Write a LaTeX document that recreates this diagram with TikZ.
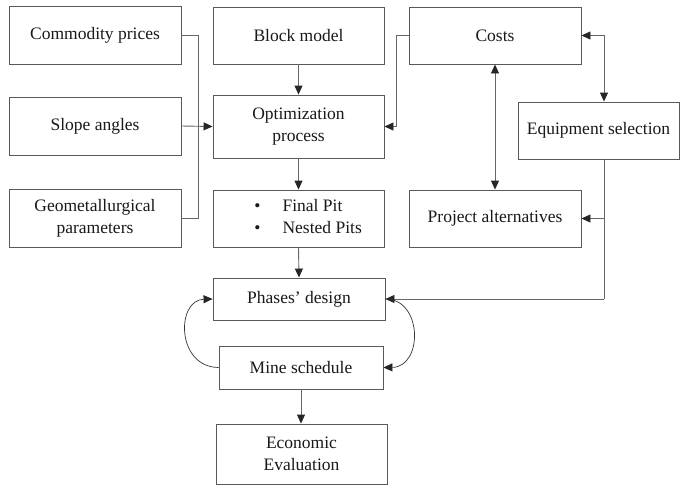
\documentclass[tikz,border=0pt]{standalone}
\usepackage{fontspec}
\setmainfont{Liberation Serif}
\usetikzlibrary{arrows.meta}
\begin{document}
\begin{tikzpicture}[x=1pt,y=-1pt,
  box/.style={draw=black!65, line width=0.9pt, fill=white, inner sep=0pt, align=center,
    font=\fontsize{17.5}{22}\selectfont, text=black!90},
  conn/.style={draw=black!60, line width=0.9pt, -{Triangle[length=9pt,width=8pt,black!85]}},
  dconn/.style={draw=black!60, line width=0.9pt, {Triangle[length=9pt,width=8pt,black!85]}-{Triangle[length=9pt,width=8pt,black!85]}},
  plain/.style={draw=black!60, line width=0.9pt}]
\useasboundingbox (0,0) rectangle (680,485);
% boxes
\node[box, minimum width=172pt, minimum height=58pt] (comm) at (95,35.5) {Commodity prices};
\node[box, minimum width=172pt, minimum height=58pt] (slope) at (95,126) {Slope angles};
\node[box, minimum width=172pt, minimum height=58pt] (geo) at (95,218) {Geometallurgical\\parameters};
\node[box, minimum width=171pt, minimum height=57pt] (block) at (298.5,35.5) {Block model};
\node[box, minimum width=171pt, minimum height=63pt] (opt) at (298.5,126.5) {Optimization\\process};
\node[box, minimum width=171pt, minimum height=57pt] (pit) at (298.5,218.5) {};
\node[box, draw=none, fill=none, anchor=west] (pittext) at (254,218.5)
  {\begin{tabular}{@{}l@{\hspace{22pt}}l@{}}\textbullet & Final Pit\\ \textbullet & Nested Pits\end{tabular}};
\node[box, minimum width=172pt, minimum height=57pt] (costs) at (495,35.5) {Costs};
\node[box, minimum width=161pt, minimum height=57pt] (equip) at (598.5,130.5) {Equipment selection};
\node[box, minimum width=172pt, minimum height=57pt] (proj) at (495,218.5) {Project alternatives};
\node[box, minimum width=172pt, minimum height=42pt] (phases) at (299,299) {Phases' design};
\node[box, minimum width=164pt, minimum height=43pt] (mine) at (301,367.5) {Mine schedule};
\node[box, minimum width=171pt, minimum height=60pt] (econ) at (301.5,454) {Economic\\Evaluation};
% left inputs bus
\coordinate (busT) at (198,35.5);
\coordinate (busB) at (198,218);
\draw[plain] (comm.east) -- (busT) -- (busB) -- (geo.east);
\draw[conn] (slope.east) -- (opt.west);
% vertical chain
\draw[conn] (block.south) -- (opt.north);
\draw[conn] (opt.south) -- (pit.north);
\draw[conn] (pit.south) -- (phases.north);
\draw[conn] (mine.south) -- (mine.south |- econ.north);
% costs to optimization
\coordinate (cA) at (396,35.5);
\coordinate (cB) at (396,126.5);
\draw[conn] (costs.west) -- (cA) -- (cB) -- (opt.east);
% costs <-> project alternatives
\draw[dconn] (costs.south) -- (proj.north);
% costs <-> equipment
\coordinate (eA) at (604,35.5);
\draw[dconn] (costs.east) -- (eA) -- (eA |- equip.north);
% equipment -> project alternatives and phases
\coordinate (eB) at (604,218.5);
\coordinate (eC) at (604,299);
\draw[plain] (604,159) -- (eC);
\draw[conn] (eB) -- (proj.east);
\draw[conn] (eC) -- (phases.east);
% loop curves
\draw[conn, draw=black!80, line width=0.7pt] (mine.west) .. controls (176,367) and (176,300) .. (phases.west);
\draw[conn, draw=black!80, line width=0.7pt] (phases.east) .. controls (423,299) and (423,367) .. (mine.east);
\end{tikzpicture}
\end{document}
